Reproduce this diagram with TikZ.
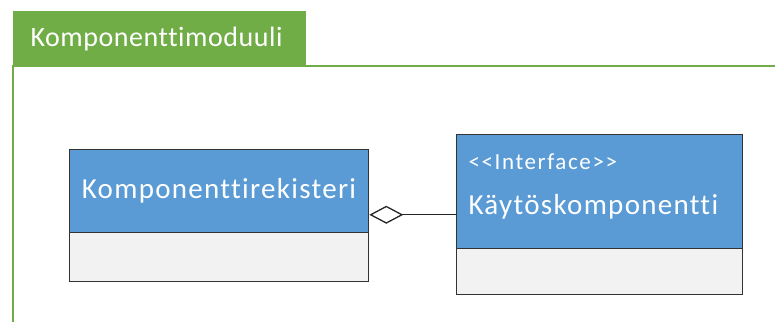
\documentclass[tikz,border=0pt]{standalone}
\usepackage{fontspec}
\setmainfont{Carlito}[Ligatures={NoCommon,NoRequired}]
\newfontfamily\tabfont{Carlito}[Ligatures={NoCommon,NoRequired}, LetterSpace=2]
\newfontfamily\namefont{Carlito}[Ligatures={NoCommon,NoRequired}, LetterSpace=4.5]
\newfontfamily\stereofont{Carlito}[Ligatures={NoCommon,NoRequired}, LetterSpace=7]
\usetikzlibrary{arrows.meta,calc}
\definecolor{modgreen}{HTML}{70AD47}
\definecolor{clsblue}{HTML}{5B9BD5}
\definecolor{clsgray}{HTML}{F2F2F2}
\definecolor{clsline}{HTML}{333333}
\tikzset{
  tabbox/.style={fill=modgreen, draw=modgreen, anchor=north west, inner sep=0pt},
  tabtext/.style={text=white, font=\tabfont\fontsize{28}{30}\selectfont},
  headbox/.style={fill=clsblue, draw=clsline, line width=1.3pt, anchor=north west, inner sep=0pt},
  bodybox/.style={fill=clsgray, draw=clsline, line width=1.3pt, anchor=north west, inner sep=0pt},
  clsname/.style={text=white, font=\namefont\fontsize{29}{32}\selectfont},
  stereo/.style={text=white, font=\stereofont\fontsize{23}{25}\selectfont},
  aggr/.style={draw=black!85, line width=1.3pt,
    {Diamond[open,length=34pt,width=18pt,line width=1.3pt]}-},
}
\begin{document}
\begin{tikzpicture}[x=1pt,y=-1pt]
  \useasboundingbox (0,0) rectangle (775,321);
  % module frame and its tab
  \draw[modgreen, line width=1.3pt] (13,322) -- (13,66) -- (776,66);
  \node[tabbox, minimum width=292pt, minimum height=55pt] (tab) at (13,11) {};
  \node[tabtext, anchor=west] (tabtxt) at (27,39) {Komponenttimoduuli};
  % class Komponenttirekisteri
  \node[headbox, minimum width=299pt, minimum height=83pt] (krhead) at (69,149) {};
  \node[bodybox, minimum width=299pt, minimum height=49pt] (krbody) at (69,232) {};
  \node[clsname] (krname) at (219,191) {Komponenttirekisteri};
  % interface Käytöskomponentti
  \node[headbox, minimum width=286pt, minimum height=114pt] (ifhead) at (456,134) {};
  \node[bodybox, minimum width=286pt, minimum height=46pt] (ifbody) at (456,248) {};
  \node[stereo, anchor=west] (ifstereo) at (465,162) {<{}<Interface>{}>};
  \node[clsname, anchor=west] (ifname) at (465,207) {Käytöskomponentti};
  % aggregation
  \coordinate (agg) at ($(krhead.south east)!0.22!(krhead.north east)$);
  \draw[aggr] (agg) -- (agg -| ifhead.west);
\end{tikzpicture}
\end{document}
